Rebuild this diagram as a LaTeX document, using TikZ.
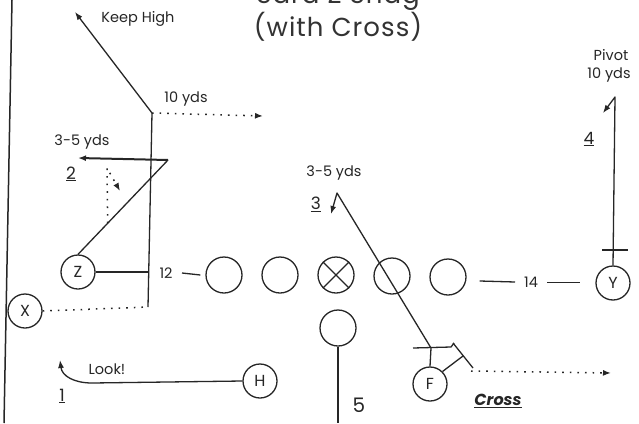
\documentclass[tikz,border=0pt]{standalone}
\usepackage{fontspec}
\setmainfont{Poppins}
\usetikzlibrary{arrows.meta,calc}
\begin{document}
\begin{tikzpicture}[x=1pt,y=-1pt,
  ink/.style={draw=black!85},
  player/.style={circle,ink,line width=1.3pt,minimum size=34pt,inner sep=0pt,font=\fontsize{16}{16}\selectfont,text=black!85},
  lineman/.style={circle,ink,line width=1.3pt,minimum size=36pt,inner sep=0pt},
  route/.style={ink,line width=1.3pt,line join=round},
  heavy/.style={ink,line width=2pt},
  opt/.style={ink,line width=1.5pt,dash pattern=on 1.6pt off 6pt},
  tip/.style={-{Latex[length=8pt,width=6pt]}},
  lbl/.style={font=\fontsize{14.5}{16}\selectfont,inner sep=0pt,text=black!85},
  num/.style={font=\fontsize{17}{17}\selectfont,inner sep=0pt,text=black!85},
  ttl/.style={font=\fontsize{26}{27}\selectfont\addfontfeature{LetterSpace=4},text=black!80,inner sep=0pt}
]
\useasboundingbox (0,0) rectangle (639,423);
\fill[white] (0,0) rectangle (639,423);
% left border
\draw[line width=1.5pt,black!85] (12,0) -- (4,423);
% title
\node[ttl,anchor=base] (title0) at (338,4) {Sara Z Snag};
\node[ttl,anchor=base] (title) at (338,36) {(with Cross)};
% players
\node[player] (X) at (25,311) {X};
\node[player] (Z) at (78,272) {Z};
\node[player] (H) at (260,381) {H};
\node[player] (F) at (430,384) {F};
\node[player] (Y) at (613,283) {Y};
\node[lineman] (L1) at (224,275) {};
\node[lineman] (L2) at (280,275) {};
\node[lineman] (C) at (336,275) {};
\draw[route] (C.north west) -- (C.south east) (C.north east) -- (C.south west);
\node[lineman] (R1) at (392,276) {};
\node[lineman] (R2) at (448,277) {};
\node[lineman] (QB) at (338,328) {};
% X route
\coordinate (xc) at (148,307);
\coordinate (xt) at (152,113);
\coordinate (kh) at (75,12);
\coordinate (xo) at (263,116);
\draw[opt] (X.east) -- (xc);
\draw[route,tip] (xc) -- (xt) -- (kh);
\draw[opt,tip] (xt) -- (xo);
\node[lbl] (lkh) at (138,19) {Keep High};
\node[lbl] (l10) at (186,99) {10 yds};
% Z route 2
\coordinate (z1) at (168,160);
\coordinate (z2) at (78,158);
\draw[route] (Z.north) -- (z1);
\draw[heavy,tip] (z1) -- (z2);
\coordinate (zd0) at ($(Z.north)!0.33!(z1)$);
\coordinate (zd1) at (107,168);
\coordinate (zd2) at (120,191);
\draw[opt,tip] (zd0) -- (zd1) -- (zd2);
\node[lbl] (l35a) at (82,142) {3-5 yds};
\node[num] (n2) at (71,174) {\underline{2}};
% 12 and 14
\coordinate (v12) at (148,272);
\draw[route] (Z.east) -- (v12);
\node[lbl] (l12) at (166,273) {12};
\coordinate (d12) at (182,273);
\draw[route] (d12) -- ($(L1.west)+(-5,0)$);
\coordinate (d14a) at ($(R2.east)+(13,4)$);
\coordinate (d14b) at (515,282);
\draw[route] (d14a) -- (d14b);
\node[lbl] (l14) at (531,282) {14};
\coordinate (d14c) at (547,282);
\coordinate (d14d) at (580,282);
\draw[ink,line width=0.9pt] (d14c) -- (d14d);
% Y route 4
\coordinate (y1) at (615,97);
\coordinate (y2) at (603,113);
\draw[route,tip] (Y.north) -- (y1) -- (y2);
\draw[route] (602,250) -- (628,250);
\node[lbl] (lpiv) at (611,55) {Pivot};
\node[lbl] (lp10) at (609,75) {10 yds};
\node[num] (n4) at (589,139) {\underline{4}};
% F route 3
\coordinate (fb) at (431,348);
\coordinate (t3) at (337,193);
\coordinate (t3e) at (331,214);
\draw[route,tip] (F.north) -- (fb) -- (t3) -- (t3e);
\draw[route] (413,348) -- (451,347) -- (454,343);
\node[lbl] (l35b) at (334,173) {3-5 yds};
\node[num] (n3) at (316,204) {\underline{3}};
% F cross
\coordinate (f2) at (463,356);
\draw[route] (F.north east) -- (f2);
\draw[route] (453,343) -- (473,368);
\coordinate (fc1) at (471,371);
\coordinate (fc2) at (611,373);
\draw[opt,tip] (fc1) -- (fc2);
\node[font=\fontsize{16}{16}\selectfont\itshape\bfseries,text=black!85,inner sep=0pt] (lcross) at (498,401) {\underline{Cross}};
% QB
\coordinate (qbe) at (338,423);
\draw[route] (QB.south) -- (qbe);
\node[font=\fontsize{20}{20}\selectfont,text=black!85,inner sep=0pt] (n5) at (359,405) {5};
% H route 1
\coordinate (h1) at (92,383);
\coordinate (h2) at (60,360);
\draw[route,tip] (H.west) -- (h1) .. controls (74,383) and (62,376) .. (h2);
\node[lbl] (llook) at (107,369) {Look!};
\node[num] (n1) at (62,396) {\underline{1}};
\end{tikzpicture}
\end{document}
